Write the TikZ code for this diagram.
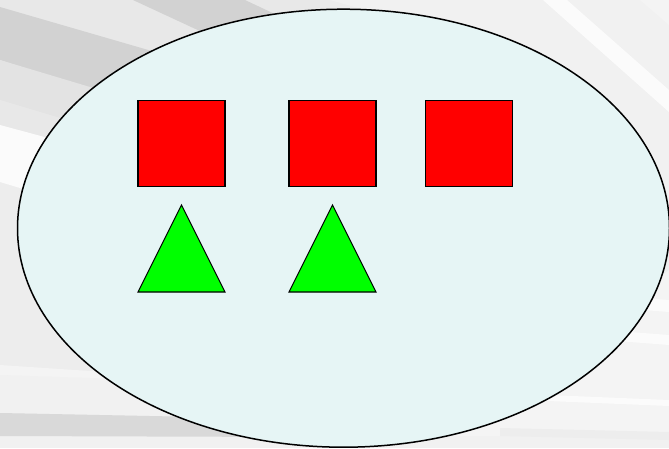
\documentclass[tikz,border=0pt]{standalone}
\usetikzlibrary{shapes.geometric}
\definecolor{bgbase}{HTML}{EDEDED}
\definecolor{bgcorner}{HTML}{E8E8E8}
\definecolor{bgdark}{HTML}{D2D2D2}
\definecolor{bgmid}{HTML}{E3E3E3}
\definecolor{bgwhite}{HTML}{FBFBFB}
\definecolor{bgsoft}{HTML}{F4F4F4}
\definecolor{bglow}{HTML}{D9D9D9}
\definecolor{bglight}{HTML}{F1F1F1}
\definecolor{cellfill}{HTML}{E6F5F5}
\definecolor{sqred}{HTML}{FF0000}
\definecolor{trigreen}{HTML}{00FF00}
\tikzset{
  cellshape/.style={ellipse, draw=black, line width=1.5pt, fill=cellfill,
    minimum width=652pt, minimum height=438pt, inner sep=0pt, outer sep=0pt},
  redsquare/.style={rectangle, draw=black, line width=1.1pt, fill=sqred,
    minimum width=87pt, minimum height=86.5pt, inner sep=0pt, outer sep=0pt},
  greentri/.style={draw=black, line width=1.1pt, fill=trigreen, line join=miter}
}
\begin{document}
\begin{tikzpicture}[x=1pt,y=-1pt]
\useasboundingbox (0,0) rectangle (669,448);
% background rays
\begin{scope}
\clip (0,0) rectangle (669,448);
\fill[bgbase] (0,0) rectangle (669,448);
\fill[bgcorner] (0,0) -- (330,0) -- (330,130) -- (0,130) -- cycle;
\fill[bglight] (330,0) -- (669,0) -- (669,240) -- (400,20) -- cycle;
\fill[bgwhite] (543,0) -- (567,0) -- (669,90) -- (669,112) -- cycle;
\fill[bgsoft] (640,0) -- (669,0) -- (669,25) -- cycle;
\fill[bgdark] (0,7) -- (200,65) -- (200,126) -- (0,60) -- cycle;
\fill[bgdark] (133,0) -- (245,0) -- (330,40) -- (230,45) -- cycle;
\fill[bgmid] (0,60) -- (100,90) -- (100,130) -- (0,100) -- cycle;
\fill[bgcorner] (0,100) -- (100,130) -- (100,152) -- (0,125) -- cycle;
\fill[bgwhite] (0,125) -- (100,152) -- (100,212) -- (0,182) -- cycle;
\fill[bgsoft] (0,365) -- (150,375) -- (150,385) -- (0,375) -- cycle;
\fill[bglight] (0,375) -- (300,385) -- (300,419) -- (0,413) -- cycle;
\fill[bglight] (0,436) rectangle (669,448);
\fill[bglow] (0,413) -- (300,419) -- (300,437) -- (0,436) -- cycle;
\fill[bgsoft] (669,270) -- (669,436) -- (440,436) -- cycle;
\fill[bgwhite] (540,290) -- (669,300) -- (669,312) -- (540,302) -- cycle;
\fill[bgwhite] (540,325) -- (669,335) -- (669,345) -- (540,335) -- cycle;
\fill[bgwhite] (500,393) -- (669,400) -- (669,406) -- (500,399) -- cycle;
\fill[bgbase] (500,428) -- (669,432) -- (669,440) -- (500,436) -- cycle;
\end{scope}
% cell
\node[cellshape] (cell) at (343.5,228.2) {};
% squares
\node[redsquare] (sqa) at (181.5,143.3) {};
\node[redsquare] (sqb) at (332.5,143.3) {};
\node[redsquare] (sqc) at (468.8,143.3) {};
% triangles
\coordinate (tria) at (181.5,205);
\coordinate (trib) at (332.5,205);
\draw[greentri] (tria) -- ++(43.5,87) -- ++(-87,0) -- cycle;
\draw[greentri] (trib) -- ++(43.5,87) -- ++(-87,0) -- cycle;
\end{tikzpicture}
\end{document}
